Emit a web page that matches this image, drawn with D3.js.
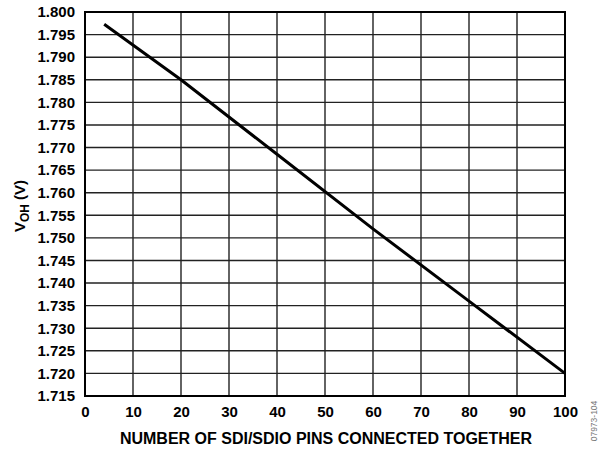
<!DOCTYPE html>
<html><head><meta charset="utf-8">
<script src="https://cdn.jsdelivr.net/npm/d3@7"></script>
<style>body{margin:0;background:#fff;} text{font-family:"Liberation Sans",Arial,sans-serif;font-weight:bold;}</style>
</head><body>
<svg id="c" width="599" height="451"></svg>
<script>
const pins = [4, 20, 40, 60, 80, 100];
const voh = [1.7973, 1.785, 1.7685, 1.752, 1.736, 1.720];
const xTicks = [0,10,20,30,40,50,60,70,80,90,100];
const yTicks = d3.range(0,18).map(i => +(1.715 + i*0.005).toFixed(3));

const svg = d3.select("#c");
const L=85, R=565, T=12, B=396;
const x = d3.scaleLinear().domain([0,100]).range([L,R]);
const y = d3.scaleLinear().domain([1.715,1.800]).range([B,T]);

const g = svg.append("g");
g.selectAll(".vx").data(xTicks).enter().append("line")
  .attr("x1",d=>x(d)).attr("x2",d=>x(d)).attr("y1",T).attr("y2",B)
  .attr("stroke","#222").attr("stroke-width",1.4);
g.selectAll(".hy").data(yTicks).enter().append("line")
  .attr("y1",d=>y(d)).attr("y2",d=>y(d)).attr("x1",L).attr("x2",R)
  .attr("stroke","#222").attr("stroke-width",1.4);
g.append("rect").attr("x",L).attr("y",T).attr("width",R-L).attr("height",B-T)
  .attr("fill","none").attr("stroke","#000").attr("stroke-width",2);

const xa = d3.axisBottom(x).tickValues(xTicks).tickSize(0).tickPadding(10).tickFormat(d3.format("d"));
const ya = d3.axisLeft(y).tickValues(yTicks).tickSize(0).tickPadding(10).tickFormat(d3.format(".3f"));
const gx = svg.append("g").attr("transform",`translate(0,${B})`).call(xa);
const gy = svg.append("g").attr("transform",`translate(${L},0)`).call(ya);
[gx,gy].forEach(a=>{a.select(".domain").remove(); a.selectAll("text").attr("font-size",15).attr("fill","#000").style("font-family","Liberation Sans, Arial, sans-serif").style("font-weight","bold");});

const line = d3.line().x((d,i)=>x(pins[i])).y(d=>y(d));
svg.append("path").datum(voh).attr("d",line).attr("fill","none").attr("stroke","#000").attr("stroke-width",3);

svg.append("text").attr("x",326).attr("y",444).attr("text-anchor","middle").attr("font-size",16).text("NUMBER OF SDI/SDIO PINS CONNECTED TOGETHER");
const yl = svg.append("text").attr("transform","translate(25,206) rotate(-90)").attr("text-anchor","middle").attr("font-size",15);
yl.append("tspan").text("V");
yl.append("tspan").attr("font-size",12).attr("dy",4).text("OH");
yl.append("tspan").attr("dy",-4).text(" (V)");
svg.append("text").attr("transform","translate(597,421) rotate(-90)").attr("text-anchor","middle").attr("font-size",8.5).attr("fill","#777").style("font-weight","normal").text("07973-104");
</script>
</body></html>
